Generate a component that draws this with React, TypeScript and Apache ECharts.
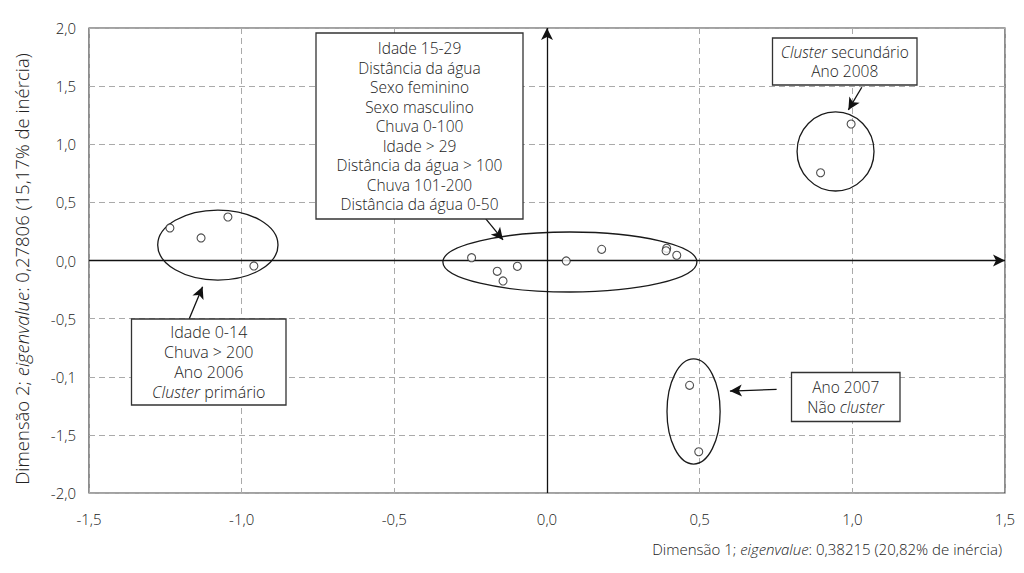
import React, { useEffect, useRef } from "react";
import * as echarts from "echarts";

// Axis ticks and labels
const xMin = -1.5;
const xMax = 1.5;
const yMin = -2;
const yMax = 2;
const tickStep = 0.5;
const xTickLabels = ["-1,5", "-1,0", "-0,5", "0,0", "0,5", "1,0", "1,5"];
const yTickLabels = ["-2,0", "-1,5", "-0,1", "-0,5", "0,0", "0,5", "1,0", "1,5", "2,0"];

// Points (Dimensão 1, Dimensão 2)
const clusterPrimario = [
  [-1.235, 0.28],
  [-1.133, 0.194],
  [-1.045, 0.374],
  [-0.96, -0.047],
];
const clusterCentral = [
  [-0.247, 0.024],
  [-0.163, -0.093],
  [-0.144, -0.176],
  [-0.097, -0.05],
  [0.063, -0.004],
  [0.179, 0.096],
  [0.392, 0.105],
  [0.39, 0.084],
  [0.425, 0.045],
];
const clusterSecundario = [
  [0.996, 1.174],
  [0.896, 0.755],
];
const naoCluster = [
  [0.467, -1.074],
  [0.497, -1.645],
];

// Ellipses around groups: [cx, cy, rx, ry] in data units
const groupEllipses = [
  [-1.078, 0.133, 0.197, 0.301],
  [0.075, -0.013, 0.416, 0.258],
  [0.945, 0.938, 0.126, 0.34],
  [0.48, -1.299, 0.087, 0.452],
];

// Arrows from labels to groups: [x1, y1, x2, y2]
const arrows = [
  [-0.203, 0.366, -0.144, 0.177],
  [-1.172, -0.503, -1.128, -0.225],
  [1.031, 1.49, 0.987, 1.295],
  [0.752, -1.108, 0.599, -1.123],
];

// Label texts
const labelCentral = [
  "Idade 15-29",
  "Distância da água",
  "Sexo feminino",
  "Sexo masculino",
  "Chuva 0-100",
  "Idade > 29",
  "Distância da água > 100",
  "Chuva 101-200",
  "Distância da água 0-50",
];
const labelPrimario = ["Idade 0-14", "Chuva > 200", "Ano 2006", "{i|Cluster} primário"];
const labelSecundario = ["{i|Cluster} secundário", "Ano 2008"];
const labelNao = ["Ano 2007", "Não {i|cluster}"];

const xTitle = "Dimensão 1; {i|eigenvalue}: 0,38215 (20,82% de inércia)";
const yTitle = "Dimensão 2; {i|eigenvalue}: 0,27806 (15,17% de inércia)";

const FONT = "'Open Sans', 'Noto Sans', sans-serif";
const WEIGHT = 300;
const TEXT_COLOR = "#222";

function box(x: number, y: number, w: number, h: number, lines: string[], lh: number, fs: number) {
  const st = { fontFamily: FONT, fontWeight: WEIGHT, fontSize: fs, lineHeight: lh, fill: TEXT_COLOR };
  const text = lines.map((l) => (l.indexOf("{") >= 0 ? l : `{n|${l}}`)).join("\n");
  return {
    type: "group",
    z: 50,
    children: [
      {
        type: "rect",
        shape: { x, y, width: w, height: h },
        style: { fill: "#fff", stroke: "#333", lineWidth: 1.3 },
        z: 50,
      },
      {
        type: "text",
        x: x + w / 2,
        y: y + h / 2,
        z: 51,
        style: {
          text,
          align: "center",
          verticalAlign: "middle",
          ...st,
          rich: { i: { fontStyle: "italic", ...st }, n: { ...st } },
        },
      },
    ],
  };
}

export default function App() {
  const ref = useRef<HTMLDivElement>(null);
  useEffect(() => {
    if (!ref.current) return;
    const chart = echarts.init(ref.current, undefined, { renderer: "svg" });
    const pointStyle = { color: "#fff", borderColor: "#222", borderWidth: 1.1 };
    const xTitleStyle = { fontFamily: FONT, fontWeight: WEIGHT, fontSize: 15, fill: "#222" };
    const yTitleStyle = { fontFamily: FONT, fontWeight: WEIGHT, fontSize: 18.5, fill: "#222" };
    const option: any = {
      animation: false,
      backgroundColor: "#fff",
      grid: {
        left: 89,
        right: 19,
        top: 28,
        bottom: 80,
        show: true,
        borderColor: "#444",
        borderWidth: 1.2,
        backgroundColor: "transparent",
      },
      xAxis: {
        type: "value",
        min: xMin,
        max: xMax,
        interval: tickStep,
        axisLine: { show: false, onZero: false },
        axisTick: { show: false },
        splitLine: { show: true, lineStyle: { color: "#aaa", type: [6, 4], width: 1 } },
        axisLabel: {
          margin: 18,
          fontFamily: FONT,
          fontWeight: WEIGHT,
          fontSize: 15,
          color: "#222",
          formatter: (v: number) => xTickLabels[Math.round((v - xMin) / tickStep)],
        },
      },
      yAxis: {
        type: "value",
        min: yMin,
        max: yMax,
        interval: tickStep,
        axisLine: { show: false, onZero: false },
        axisTick: { show: false },
        splitLine: { show: true, lineStyle: { color: "#aaa", type: [6, 4], width: 1 } },
        axisLabel: {
          margin: 13,
          fontFamily: FONT,
          fontWeight: WEIGHT,
          fontSize: 15,
          color: "#222",
          formatter: (v: number) => yTickLabels[Math.round((v - yMin) / tickStep)],
        },
      },
      series: [
        {
          type: "custom",
          silent: true,
          z: 3,
          data: groupEllipses,
          renderItem: (params: any, api: any) => {
            const c = api.coord([api.value(0), api.value(1)]);
            const s = api.size([api.value(2), api.value(3)]);
            return {
              type: "ellipse",
              shape: { cx: c[0], cy: c[1], rx: s[0], ry: s[1] },
              style: { fill: "none", stroke: "#1a1a1a", lineWidth: 1.3 },
            };
          },
        },
        {
          type: "scatter",
          z: 5,
          symbol: "circle",
          symbolSize: 8,
          silent: true,
          itemStyle: pointStyle,
          data: [...clusterPrimario, ...clusterCentral, ...clusterSecundario, ...naoCluster],
          markLine: {
            silent: true,
            symbol: ["none", "arrow"],
            symbolSize: [9, 12],
            label: { show: false },
            lineStyle: { color: "#111", type: "solid", width: 1.3 },
            data: [
              { xAxis: 0 },
              { yAxis: 0 },
              ...arrows.map((a) => [{ coord: [a[0], a[1]] }, { coord: [a[2], a[3]] }]),
            ],
          },
        },
      ],
      graphic: [
        box(316, 33, 207, 186, labelCentral, 19.5, 15.5),
        box(131.5, 319, 154.5, 86, labelPrimario, 19.8, 16),
        box(772.5, 38, 144.5, 47, labelSecundario, 19.5, 15.5),
        box(791.5, 372.5, 108.5, 49, labelNao, 19.5, 15.5),
        {
          type: "text",
          x: 1002,
          y: 549,
          style: {
            text: xTitle,
            align: "right",
            verticalAlign: "middle",
            ...xTitleStyle,
            rich: { i: { fontStyle: "italic", ...xTitleStyle } },
          },
        },
        {
          type: "text",
          x: 21,
          y: 269,
          rotation: Math.PI / 2,
          style: {
            text: yTitle,
            align: "center",
            verticalAlign: "middle",
            ...yTitleStyle,
            rich: { i: { fontStyle: "italic", ...yTitleStyle } },
          },
        },
      ],
    };
    chart.setOption(option);
    return () => chart.dispose();
  }, []);
  return <div ref={ref} style={{ width: 1024, height: 573, position: "absolute", left: 0, top: 0 }} />;
}
